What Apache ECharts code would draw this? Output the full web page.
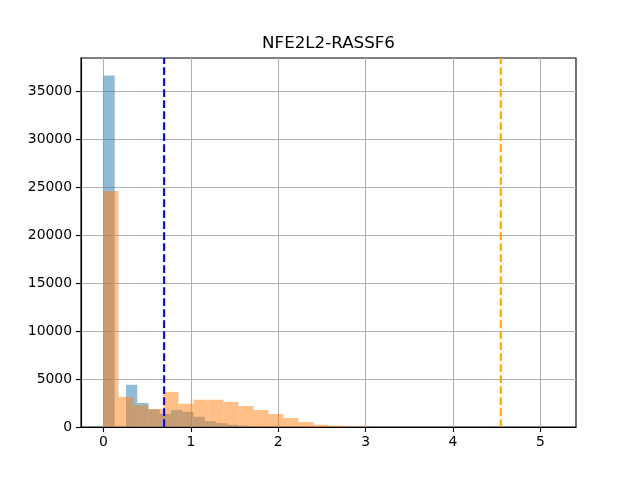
<!DOCTYPE html>
<html>
<head>
<meta charset="utf-8">
<script src="https://cdn.jsdelivr.net/npm/echarts@6/dist/echarts.min.js"></script>
<style>html,body{margin:0;padding:0;background:#fff}#c{width:640px;height:480px}</style>
</head>
<body>
<div id="c"></div>
<script>
// ---- data ----
const titleText = 'NFE2L2-RASSF6';
const binCount = 30;
const blueRange = [0, 3.861];
const orangeRange = [0, 5.15];
const blueCounts = [36650, 0, 4400, 2500, 1830, 1380, 1790, 1590, 1060, 610, 400, 230, 130, 60, 30, 15, 8, 4, 2, 1, 1, 0, 0, 0, 0, 0, 0, 0, 0, 1];
const orangeCounts = [24600, 3150, 2270, 1870, 3650, 2430, 2840, 2840, 2620, 2190, 1770, 1350, 940, 520, 240, 135, 60, 25, 10, 5, 2, 1, 1, 0, 0, 0, 0, 0, 0, 1];
const blueLineX = 0.694;
const orangeLineX = 4.547;
const xTicks = [0, 1, 2, 3, 4, 5];
const yTicks = [0, 5000, 10000, 15000, 20000, 25000, 30000, 35000];
const xExtent = [-0.2575, 5.4075];
const yExtent = [0, 38480];

function bins(range, counts) {
  const w = (range[1] - range[0]) / binCount;
  return counts.map((c, i) => [range[0] + i * w, range[0] + (i + 1) * w, c]);
}

function histRender(color) {
  return function (params, api) {
    const p0 = api.coord([api.value(0), api.value(2)]);
    const p1 = api.coord([api.value(1), 0]);
    return {
      type: 'rect',
      shape: { x: p0[0], y: p0[1], width: p1[0] - p0[0], height: p1[1] - p0[1] },
      style: { fill: color, opacity: 0.5 }
    };
  };
}

const font = 'DejaVu Sans';
const chart = echarts.init(document.getElementById('c'), null, { renderer: 'canvas' });
chart.setOption({
  animation: false,
  backgroundColor: '#ffffff',
  title: {
    text: titleText, left: 328.5, top: 35, textAlign: 'center', padding: 0,
    textStyle: { fontFamily: font, fontSize: 16.7, fontWeight: 'normal', color: '#000' }
  },
  grid: { left: 81, right: 64, top: 58, bottom: 53, show: true, borderColor: '#000', borderWidth: 1.1, backgroundColor: '#fff' },
  xAxis: {
    type: 'value', min: xExtent[0], max: xExtent[1],
    axisLine: { show: true, onZero: false, lineStyle: { color: '#000', width: 1.1 } },
    axisTick: { show: true, length: 5, customValues: xTicks, lineStyle: { color: '#000', width: 1.1 } },
    axisLabel: { customValues: xTicks, margin: 8, fontFamily: font, fontSize: 13.9, color: '#000', formatter: v => String(v) },
    splitLine: { show: true, lineStyle: { color: '#b0b0b0', width: 1.1 } }
  },
  yAxis: {
    type: 'value', min: yExtent[0], max: yExtent[1],
    axisLine: { show: true, onZero: false, lineStyle: { color: '#000', width: 1.1 } },
    axisTick: { show: true, length: 5, customValues: yTicks, lineStyle: { color: '#000', width: 1.1 } },
    axisLabel: { customValues: yTicks, margin: 9, fontFamily: font, fontSize: 13.9, color: '#000', formatter: v => String(v) },
    splitLine: { show: true, lineStyle: { color: '#b0b0b0', width: 1.1 } }
  },
  series: [
    { type: 'custom', renderItem: histRender('#1f77b4'), data: bins(blueRange, blueCounts), encode: { x: [0, 1], y: 2 }, z: 2 },
    { type: 'custom', renderItem: histRender('#ff7f0e'), data: bins(orangeRange, orangeCounts), encode: { x: [0, 1], y: 2 }, z: 3 },
    { type: 'line', data: [[blueLineX, yExtent[0]], [blueLineX, yExtent[1]]], showSymbol: false, symbol: 'none', z: 5,
      lineStyle: { color: '#0000ff', width: 2.1, type: [7.7, 3.3] } },
    { type: 'line', data: [[orangeLineX, yExtent[0]], [orangeLineX, yExtent[1]]], showSymbol: false, symbol: 'none', z: 5,
      lineStyle: { color: '#ffa500', width: 2.1, type: [7.7, 3.3] } }
  ]
});
</script>
</body>
</html>
